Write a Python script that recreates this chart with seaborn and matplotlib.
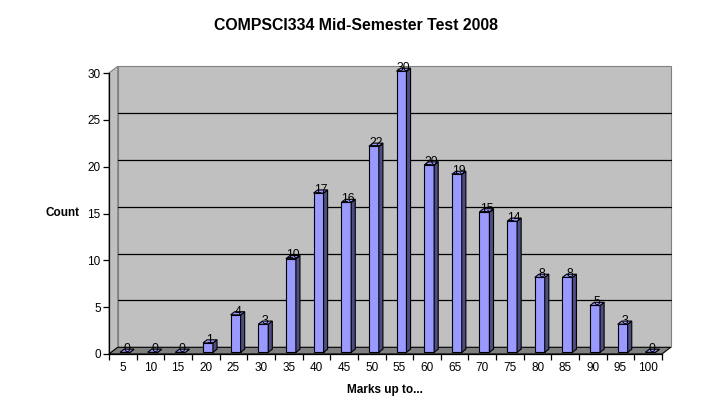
import numpy as np
import pandas as pd
import seaborn as sns
import matplotlib.pyplot as plt
from matplotlib.patches import Polygon

# data
marks = ["5", "10", "15", "20", "25", "30", "35", "40", "45", "50",
         "55", "60", "65", "70", "75", "80", "85", "90", "95", "100"]
counts = [0, 0, 0, 1, 4, 3, 10, 17, 16, 22, 30, 20, 19, 15, 14, 8, 8, 5, 3, 0]
y_ticks = [0, 5, 10, 15, 20, 25, 30]

sns.set_theme(style="white")
plt.rcParams['font.family'] = ['Liberation Sans', 'DejaVu Sans']
plt.rcParams['text.color'] = "black"

fig = plt.figure(figsize=(7.11, 4.2), dpi=100)
ax = fig.add_axes([109 / 711, 66 / 420, 553 / 711, 281 / 420])
ax.set_facecolor("none")

df = pd.DataFrame({"marks": marks, "count": counts})
sns.barplot(data=df, x="marks", y="count", color="#9999ff", width=0.36,
            saturation=1, edgecolor="black", linewidth=0.8, ax=ax, zorder=3)
ax.set_xlim(-0.5, len(marks) - 0.5)
ax.set_ylim(0, 30)

# depth of the fake 3d box, in pixels -> data units
p0 = ax.transData.transform((0, 0))
p1 = ax.transData.transform((1, 1))
ddx = 8.7 / (p1[0] - p0[0])
ddy = 6.7 / (p1[1] - p0[1])


def pt(x, y, d):
    return (x + d * ddx, y + d * ddy)


xl, xr = -0.5, len(marks) - 0.5
ytop = y_ticks[-1]

# back wall, left wall, floor
ax.add_patch(Polygon([pt(xl, 0, 1), pt(xr, 0, 1), pt(xr, ytop, 1), pt(xl, ytop, 1)],
                     facecolor="#c0c0c0", edgecolor="#808080", lw=0.8, zorder=0, clip_on=False))
ax.add_patch(Polygon([pt(xl, 0, 0), pt(xl, ytop, 0), pt(xl, ytop, 1), pt(xl, 0, 1)],
                     facecolor="#c0c0c0", edgecolor="#808080", lw=0.8, zorder=0, clip_on=False))
ax.add_patch(Polygon([pt(xl, 0, 0), pt(xr, 0, 0), pt(xr, 0, 1), pt(xl, 0, 1)],
                     facecolor="#808080", edgecolor="black", lw=0.8, zorder=1, clip_on=False))
for yv in y_ticks[1:-1]:
    a, b = pt(xl, yv, 1), pt(xr, yv, 1)
    ax.plot([a[0], b[0]], [a[1], b[1]], color="black", lw=0.9, zorder=1, clip_on=False)

# turn the flat bars into boxes
f0, f1 = 0.25, 0.72
fm = (f0 + f1) / 2
for p, c in zip(ax.patches[:len(counts)], counts):
    x0, w, h = p.get_x(), p.get_width(), p.get_height()
    p.set_xy(pt(x0, 0, f0))
    p.set_clip_on(False)
    ax.add_patch(Polygon([pt(x0 + w, 0, f0), pt(x0 + w, h, f0), pt(x0 + w, h, f1), pt(x0 + w, 0, f1)],
                         facecolor="#4d4d80", edgecolor="black", lw=0.8, zorder=3, clip_on=False))
    ax.add_patch(Polygon([pt(x0, h, f0), pt(x0 + w, h, f0), pt(x0 + w, h, f1), pt(x0, h, f1)],
                         facecolor="#9999ff", edgecolor="black", lw=0.8, zorder=3, clip_on=False))
    lx, ly = pt(x0 + w / 2, h, fm)
    ax.text(lx, ly - 0.15, str(c), ha="center", va="baseline", fontsize=8.8, zorder=4)

for s in ["top", "right"]:
    ax.spines[s].set_visible(False)
for s in ["left", "bottom"]:
    ax.spines[s].set_color("black")
    ax.spines[s].set_linewidth(0.9)
    ax.spines[s].set_zorder(2)

ax.set_yticks(y_ticks)
ax.set_xticks(np.arange(-0.5, len(marks)), minor=True)
ax.tick_params(axis="y", length=4, width=0.9, colors="black", labelsize=8.5, pad=2, left=True)
ax.tick_params(axis="x", which="major", length=0, colors="black", labelsize=8.5, pad=6)
ax.tick_params(axis="x", which="minor", length=4, width=0.9, color="black", bottom=True)
ax.set_xlabel("")
ax.set_ylabel("")

fig.text(0.5, 1 - 26 / 420, "COMPSCI334 Mid-Semester Test 2008", ha="center", va="center",
         fontsize=11.4, fontweight="bold")
fig.text(63 / 711, 1 - 213 / 420, "Count", ha="center", va="center", fontsize=8.5, fontweight="bold")
fig.text(385 / 711, 1 - 390 / 420, "Marks up to...", ha="center", va="center", fontsize=8.5,
         fontweight="bold")

fig.savefig("out.png", dpi=100, facecolor="white")
